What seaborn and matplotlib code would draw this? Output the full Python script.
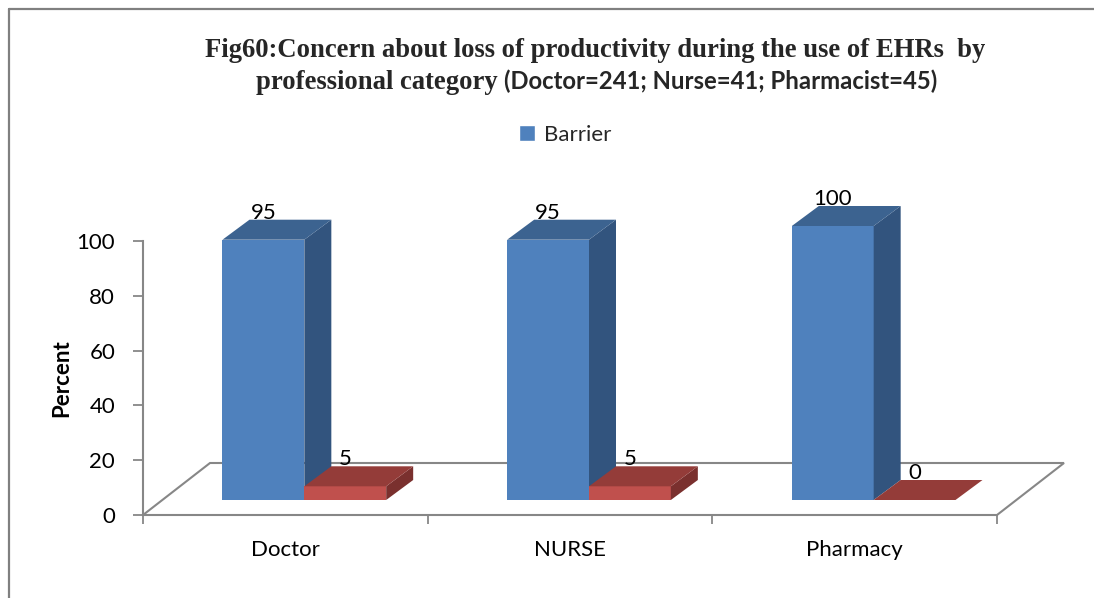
import matplotlib
matplotlib.use("Agg")
import matplotlib.pyplot as plt
from matplotlib.patches import Polygon, Patch
from matplotlib.lines import Line2D
import pandas as pd
import seaborn as sns

# ---- chart data ----
categories = ["Doctor", "NURSE", "Pharmacy"]
barrier = [95, 95, 100]
no_barrier = [5, 5, 0]
series_names = ["Barrier", "No barrier"]
y_ticks = [0, 20, 40, 60, 80, 100]

title_line1 = "Fig60:Concern about loss of productivity during the use of EHRs  by"
title_line2a = "professional category "
title_line2b = "(Doctor=241; Nurse=41; Pharmacist=45)"

front_colors = {"Barrier": "#4F81BD", "No barrier": "#C0504D"}
top_colors = {"Barrier": "#3C6390", "No barrier": "#943C39"}
side_colors = {"Barrier": "#32547E", "No barrier": "#7A302E"}
grid_gray = "#878787"

df = pd.DataFrame({
    "Category": categories * 2,
    "Percent": barrier + no_barrier,
    "Series": [series_names[0]] * len(categories) + [series_names[1]] * len(categories),
})

sns.set_theme(style="white")
plt.rcParams["font.family"] = ["Lato", "DejaVu Sans"]

W, H = 1094, 598
fig = plt.figure(figsize=(W / 100, H / 100), dpi=100)

# plot area in pixels: front floor edge from x=143 to 997 at y=515
ax_left, ax_right, ax_bottom = 143, 997, 515
px_per_unit_y = 2.74
y_top_val = 120
ax = fig.add_axes([ax_left / W, 1 - ax_bottom / H,
                   (ax_right - ax_left) / W, y_top_val * px_per_unit_y / H])

sns.barplot(data=df, x="Category", y="Percent", hue="Series",
            order=categories, hue_order=series_names, palette=front_colors,
            saturation=1, width=0.575, dodge=True, legend=False,
            linewidth=0, ax=ax)
ax.set_xlim(-0.5, len(categories) - 0.5)
ax.set_ylim(0, y_top_val)

# pixel -> data unit conversion for the pseudo-3D depth
ux = len(categories) / (ax_right - ax_left)
uy = 1 / px_per_unit_y
floor_dx, floor_dy = 67 * ux, 52 * uy
off_x, off_y = 19 * ux, 15 * uy
bar_dx, bar_dy = 27 * ux, 20 * uy

# floor outline
x0, x1 = -0.5, len(categories) - 0.5
floor = Polygon([(x0, 0), (x1, 0), (x1 + floor_dx, floor_dy), (x0 + floor_dx, floor_dy)],
                closed=True, fill=False, edgecolor=grid_gray, lw=1.5,
                clip_on=False, zorder=1)
ax.add_patch(floor)

# extrude every bar into a box
bars = []
for container, name in zip(ax.containers, series_names):
    for patch in container:
        bars.append((patch.get_x(), name, patch))
bars.sort(key=lambda b: b[0])

for i, (_, name, patch) in enumerate(bars):
    z = 3 + i
    x = patch.get_x() + off_x
    w = patch.get_width()
    h = patch.get_height()
    y0 = off_y
    patch.set_x(x)
    patch.set_y(y0)
    patch.set_zorder(z)
    patch.set_clip_on(False)
    side = Polygon([(x + w, y0), (x + w, y0 + h), (x + w + bar_dx, y0 + h + bar_dy),
                    (x + w + bar_dx, y0 + bar_dy)], closed=True,
                   facecolor=side_colors[name], edgecolor="none",
                   clip_on=False, zorder=z + 0.1)
    top = Polygon([(x, y0 + h), (x + w, y0 + h), (x + w + bar_dx, y0 + h + bar_dy),
                   (x + bar_dx, y0 + h + bar_dy)], closed=True,
                  facecolor=top_colors[name], edgecolor="none",
                  clip_on=False, zorder=z + 0.2)
    ax.add_patch(side)
    ax.add_patch(top)
    ax.annotate(f"{h:.0f}", xy=(x + w / 2, y0 + h + bar_dy), xytext=(0, 5),
                textcoords="offset points", ha="center", va="center",
                fontsize=16, color="black", zorder=50, annotation_clip=False)

# axes styling
for s in ["top", "right", "bottom"]:
    ax.spines[s].set_visible(False)
ax.spines["left"].set_bounds(0, 100)
ax.spines["left"].set_color(grid_gray)
ax.spines["left"].set_linewidth(1.5)

ax.set_yticks(y_ticks)
ax.tick_params(axis="y", left=True, length=7, width=1.3, color=grid_gray,
               pad=13, labelsize=16, labelcolor="black", direction="out")
ax.set_xticks(range(len(categories)))
ax.set_xticklabels(categories)
ax.set_xticks([i - 0.5 for i in range(len(categories) + 1)], minor=True)
ax.tick_params(axis="x", which="major", bottom=False, length=0, pad=18,
               labelsize=16, labelcolor="black")
ax.tick_params(axis="x", which="minor", bottom=True, length=6.5, width=1.3,
               color=grid_gray, direction="out")
ax.set_xlabel("")
ax.set_ylabel("Percent", fontsize=16, fontweight="bold", color="black")
ax.yaxis.set_label_coords((62 - ax_left) / (ax_right - ax_left),
                          (ax_bottom - 378) / (y_top_val * px_per_unit_y))
ax.yaxis.label.set_verticalalignment("center")
ax.yaxis.label.set_horizontalalignment("center")
ax.set_facecolor("white")

# legend (only the first series is listed)
ax.legend(handles=[Patch(facecolor=front_colors["Barrier"], label="Barrier")],
          loc="center", bbox_to_anchor=(565 / W, 1 - 135 / H),
          bbox_transform=fig.transFigure, frameon=False, fontsize=16,
          handlelength=0.7, handleheight=0.7, handletextpad=0.4)

# title: serif first line, mixed serif / sans second line
fig.text(595 / W, 1 - 57 / H, title_line1, ha="center", va="baseline",
         family="Liberation Serif", weight="bold", fontsize=19.2)
t1 = fig.text(0, 1 - 89 / H, title_line2a, ha="left", va="baseline",
              family="Liberation Serif", weight="bold", fontsize=19.2)
t2 = fig.text(0, 1 - 89 / H, title_line2b, ha="left", va="baseline",
              family="Lato", weight="bold", fontsize=17.2)
fig.canvas.draw()
r = fig.canvas.get_renderer()
w1 = t1.get_window_extent(r).width
w2 = t2.get_window_extent(r).width
start = 597 - (w1 + w2) / 2
t1.set_x(start / W)
t2.set_x((start + w1) / W)

# outer frame (left and top edges)
fig.add_artist(Line2D([9 / W, 9 / W], [0, 1 - 9 / H], color="#808080", lw=1.6))
fig.add_artist(Line2D([9 / W, 1], [1 - 9 / H, 1 - 9 / H], color="#808080", lw=1.6))

fig.savefig("out.png", dpi=100)
